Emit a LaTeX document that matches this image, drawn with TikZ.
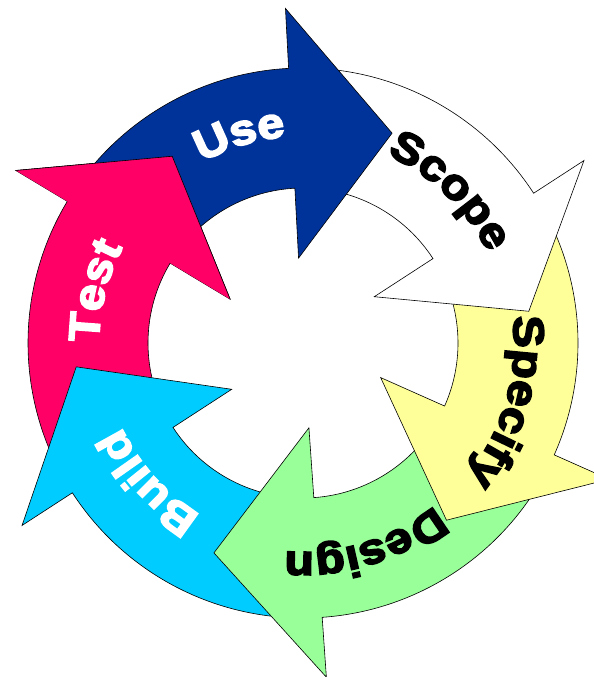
\documentclass[tikz,border=0pt]{standalone}
\usepackage{fontspec}
\setmainfont{Liberation Sans}
\newfontfamily\labelfont{Liberation Sans Bold}[FakeBold=4,FakeStretch=1.12]
\usetikzlibrary{decorations.text}

\definecolor{useblue}{RGB}{0,51,153}
\definecolor{specyellow}{RGB}{255,255,153}
\definecolor{designgreen}{RGB}{153,255,153}
\definecolor{buildcyan}{RGB}{0,204,255}
\definecolor{testpink}{RGB}{255,0,102}

% fill, tail angle, head base angle, tip angle
\newcommand\cyclearrow[4]{%
  \filldraw[fill=#1] (#2:275) arc[start angle=#2, end angle=#3, radius=275]
    -- (#3:335) -- (#4:228) -- (#3:85) -- (#3:155)
    arc[start angle=#3, end angle=#2, radius=155] -- cycle;}
% text colour, centre angle, baseline radius, text
\newcommand\cyclelabel[4]{%
  \path[decorate, decoration={text along path, text align=center,
      text color=#1, text={|\labelfont\fontsize{43}{43}\selectfont|#4}}]
    ({#2+40}:#3) arc[start angle=#2+40, end angle=#2-40, radius=#3];}

\begin{document}
\begin{tikzpicture}[x=1pt,y=1pt,line width=0.6pt]
\useasboundingbox (0,0) rectangle (594,-677);
\clip (0,0) rectangle (594,-677);

\begin{scope}[shift={(303,-343)}]
% drawn against the flow, so each head lies on the next tail
\cyclearrow{testpink}{208}{149}{125}
\cyclearrow{buildcyan}{-91}{-147}{-174}
\cyclearrow{designgreen}{-29}{-86}{-113}
\cyclearrow{specyellow}{28}{-24}{-51}
\cyclearrow{white}{88}{33}{8}
\cyclearrow{useblue}{144}{93}{67}
% test head again, over the tail of use
\fill[testpink] (149:335) -- (125:228) -- (149:85) -- cycle;
\draw (149:335) -- (125:228) -- (149:85);

\cyclelabel{white}{107}{207}{Use}
\cyclelabel{black}{46}{206}{Scope}
\cyclelabel{black}{-16}{211}{Specify}
\cyclelabel{black}{-73}{209}{Design}
\cyclelabel{white}{-138}{200}{Build}
\cyclelabel{white}{166}{204}{Test}
\end{scope}
\end{tikzpicture}
\end{document}
